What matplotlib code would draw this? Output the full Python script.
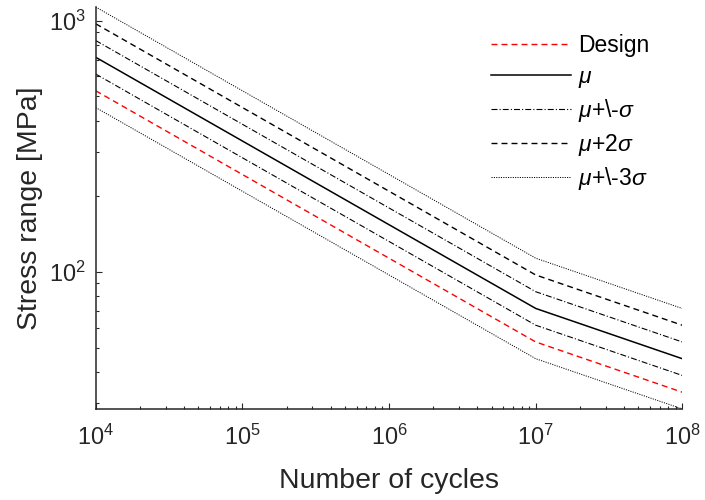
import matplotlib
matplotlib.use('Agg')
import matplotlib.pyplot as plt
from matplotlib.ticker import LogLocator, NullFormatter

plt.rcParams['font.family'] = ['Liberation Sans', 'DejaVu Sans']
plt.rcParams['mathtext.fontset'] = 'custom'
plt.rcParams['mathtext.rm'] = 'Liberation Sans'
plt.rcParams['mathtext.it'] = 'Liberation Sans:italic'
plt.rcParams['lines.scale_dashes'] = False

# S-N curves: knee at 1e7 cycles (m=3 before, m=5 after)
cycles = [1e4, 1e7, 1e8]
design = [526.3, 52.63, 33.19]     # mu - 2 sigma
mu = [715.5, 71.55, 45.12]
mu_p1 = [834.1, 83.41, 52.60]
mu_m1 = [613.6, 61.36, 38.70]
mu_p2 = [972.5, 97.25, 61.33]
mu_p3 = [1134.0, 113.4, 71.50]
mu_m3 = [451.4, 45.14, 28.47]

gray = (0.15, 0.15, 0.15)

fig = plt.figure(figsize=(7.05, 5.0), dpi=100)
ax = fig.add_axes([0.1357, 0.182, 0.968 - 0.1357, 0.986 - 0.182])

dash = (0, (4.3, 2.9))
dashdot = (0, (4.3, 1.5, 0.8, 1.5))
dot = (0, (0.8, 0.9))

ax.plot(cycles, design, color='r', lw=1.0, linestyle=dash, label='Design')
ax.plot(cycles, mu, color='k', lw=1.1, linestyle='-', label=r'$\mu$')
ax.plot(cycles, mu_p1, color='k', lw=0.8, linestyle=dashdot, label=r'$\mu$+\-$\sigma$')
ax.plot(cycles, mu_m1, color='k', lw=0.8, linestyle=dashdot)
ax.plot(cycles, mu_p2, color='k', lw=1.0, linestyle=dash, label=r'$\mu$+2$\sigma$')
ax.plot(cycles, mu_p3, color='k', lw=0.7, linestyle=dot, label=r'$\mu$+\-3$\sigma$')
ax.plot(cycles, mu_m3, color='k', lw=0.7, linestyle=dot)

ax.set_xscale('log')
ax.set_yscale('log')
ax.set_xlim(cycles[0], cycles[-1])
ax.set_ylim(min(mu_m3), max(mu_p3))

ax.xaxis.set_major_locator(LogLocator(base=10, numticks=10))
ax.xaxis.set_minor_locator(LogLocator(base=10, subs=range(2, 10), numticks=50))
ax.yaxis.set_minor_locator(LogLocator(base=10, subs=range(2, 10), numticks=50))
ax.xaxis.set_minor_formatter(NullFormatter())
ax.yaxis.set_minor_formatter(NullFormatter())

for side in ['top', 'right']:
    ax.spines[side].set_visible(False)
for side in ['left', 'bottom']:
    ax.spines[side].set_color(gray)
    ax.spines[side].set_linewidth(1.1)

ax.tick_params(which='both', direction='in', colors=gray, labelcolor=gray, width=0.8)
ax.tick_params(which='major', length=4.5, labelsize=16.8)
ax.tick_params(which='minor', length=2.5)
ax.tick_params(axis='x', which='major', pad=11)
ax.tick_params(axis='y', which='major', pad=7.5)

ax.set_xlabel('Number of cycles', fontsize=20.5, color=gray, labelpad=13)
ax.set_ylabel('Stress range [MPa]', fontsize=20.5, color=gray, labelpad=4)

leg = ax.legend(loc='upper left', bbox_to_anchor=(491 / 705, 1 - 34 / 500),
                bbox_transform=fig.transFigure, frameon=False, fontsize=16.5,
                handlelength=3.5, handletextpad=0.3, labelspacing=0.33,
                borderpad=0, borderaxespad=0)
for t in leg.get_texts():
    t.set_color('k')

fig.savefig('out.png', dpi=100)
